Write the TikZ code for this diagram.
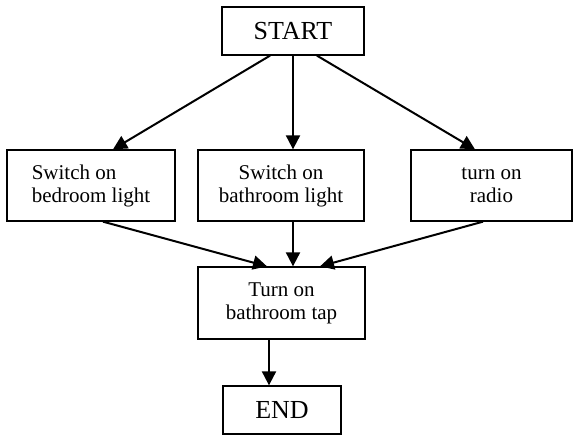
\documentclass[tikz,border=0pt]{standalone}
\usepackage{fontspec}
\setmainfont{Liberation Serif}
\usetikzlibrary{arrows.meta}
\begin{document}
\begin{tikzpicture}[x=1pt,y=-1pt,
  box/.style={draw,line width=1.3pt,inner sep=0pt,font=\fontsize{21}{23}\selectfont,align=center},
  bigbox/.style={draw,line width=1.3pt,inner sep=0pt,font=\fontsize{26}{30}\selectfont},
  arr/.style={line width=2pt,-{Triangle[length=14pt,width=14pt]}}]
\useasboundingbox (0,0) rectangle (573,436);
\node[bigbox,minimum width=142pt,minimum height=48pt] (start) at (293,31) {START};
\node[box,align=left,minimum width=168pt,minimum height=71pt] (b1) at (91,185.5) {Switch on\\bedroom light};
\node[box,minimum width=166pt,minimum height=71pt] (b2) at (281,185.5) {Switch on\\bathroom light};
\node[box,minimum width=161pt,minimum height=71pt] (b3) at (491.5,185.5) {turn on\\radio};
\node[box,minimum width=167pt,minimum height=72pt] (tap) at (281.5,303) {Turn on\\bathroom tap};
\node[bigbox,minimum width=118pt,minimum height=48pt] (end) at (282,410) {END};
\draw[arr] ([xshift=-23pt]start.south) -- ([xshift=22pt]b1.north);
\draw[arr] (start.south) -- ([xshift=12pt]b2.north);
\draw[arr] ([xshift=24pt]start.south) -- ([xshift=-16.5pt]b3.north);
\draw[arr] ([xshift=12pt]b1.south) -- ([xshift=-14.5pt]tap.north);
\draw[arr] ([xshift=12pt]b2.south) -- ([xshift=11.5pt]tap.north);
\draw[arr] ([xshift=-8.5pt]b3.south) -- ([xshift=38.5pt]tap.north);
\draw[arr] ([xshift=-12.5pt]tap.south) -- ([xshift=-13pt]end.north);
\end{tikzpicture}
\end{document}
